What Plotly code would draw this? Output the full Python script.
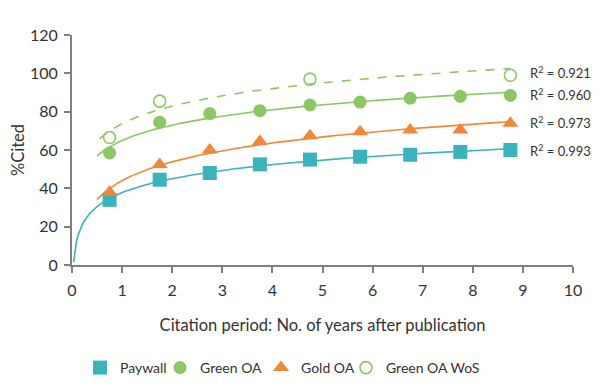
import numpy as np
import plotly.graph_objects as go

years = [0.75, 1.75, 2.75, 3.75, 4.75, 5.75, 6.75, 7.75, 8.75]
paywall = [34, 44.5, 48, 52.5, 55, 56.5, 57.5, 59, 60]
green_oa = [58.5, 74.5, 79, 80.5, 83.5, 85, 87, 88, 88.5]
gold_oa = [38, 52.5, 60, 64.5, 67.5, 69.5, 70.5, 70.5, 74]
wos_years = [0.75, 1.75, 4.75, 8.75]
green_wos = [66.5, 85.5, 97, 99]
r2_labels = ["0.921", "0.960", "0.973", "0.993"]
x_ticks = list(range(0, 11))
y_ticks = list(range(0, 121, 20))

TEAL = "#3BB3BC"
GREEN = "#8DC765"
ORANGE = "#F2873A"
AXIS = "#7f7f7f"
FONT = "Lato"
TXT = "#333333"

fig = go.Figure()


def log_trend(xs, ys, x0, x1):
    b, a = np.polyfit(np.log(xs), ys, 1)
    xx = np.linspace(x0, x1, 300)
    return xx, a + b * np.log(xx)


series = [
    ("Paywall", years, paywall, TEAL, "square", 14, False, 0.032, "solid", "legend"),
    ("Green OA", years, green_oa, GREEN, "circle", 13, False, 0.5, "solid", "legend2"),
    ("Gold OA", years, gold_oa, ORANGE, "triangle-up", 14, False, 0.5, "solid", "legend3"),
    ("Green OA WoS", wos_years, green_wos, GREEN, "circle-open", 12, True, 0.55, "dash", "legend4"),
]

for name, xs, ys, col, sym, size, hollow, x0, dash, lg in series:
    tx, ty = log_trend(xs, ys, x0, 8.75)
    fig.add_trace(go.Scatter(x=tx, y=np.clip(ty, 0, None), mode="lines",
                             line=dict(color=col, width=1.6, dash=dash),
                             showlegend=False, hoverinfo="skip"))

for name, xs, ys, col, sym, size, hollow, x0, dash, lg in series:
    fig.add_trace(go.Scatter(
        x=xs, y=ys, mode="markers", name=name, legend=lg,
        marker=dict(symbol=sym, size=size, color=col,
                    line=dict(color=col, width=1.6 if hollow else 0)),
    ))

# R² labels, ordered from top
r2_y = [100.5, 89, 74.5, 60]
for lab, yy in zip(r2_labels, r2_y):
    fig.add_annotation(x=9.1, y=yy, xanchor="left", yanchor="middle",
                       text=f"R<sup>2</sup> = {lab}", showarrow=False,
                       font=dict(family=FONT, size=13, color=TXT))

fig.update_xaxes(range=[0, 10], tickvals=x_ticks, showline=True, linecolor=AXIS,
                 linewidth=2, ticks="outside", tickcolor=AXIS, tickwidth=2, ticklen=6,
                 showgrid=False, zeroline=False, automargin=False, ticklabelstandoff=4,
                 tickfont=dict(family=FONT, size=16, color=TXT),
                 title=dict(text="Citation period: No. of years after publication",
                            font=dict(family=FONT, size=16.5, color=TXT), standoff=21))
fig.update_yaxes(range=[0, 120], tickvals=y_ticks, showline=True, linecolor=AXIS,
                 linewidth=2, ticks="outside", tickcolor=AXIS, tickwidth=2, ticklen=6,
                 showgrid=False, zeroline=False, automargin=False, ticklabelstandoff=3,
                 tickfont=dict(family=FONT, size=16, color=TXT),
                 title=dict(text="%Cited", font=dict(family=FONT, size=16.5, color=TXT),
                            standoff=8))

leg_common = dict(orientation="h", xref="container", yref="container",
                  xanchor="left", y=0.0625, yanchor="middle",
                  font=dict(family=FONT, size=14, color=TXT), itemwidth=30,
                  bgcolor="rgba(0,0,0,0)")
fig.update_layout(
    width=592, height=384,
    margin=dict(l=64, r=27, t=27, b=127),
    plot_bgcolor="white", paper_bgcolor="white",
    legend=dict(x=0.1216, **leg_common),
    legend2=dict(x=0.2568, **leg_common),
    legend3=dict(x=0.4274, **leg_common),
    legend4=dict(x=0.5709, **leg_common),
)

fig.write_html("out.html")
